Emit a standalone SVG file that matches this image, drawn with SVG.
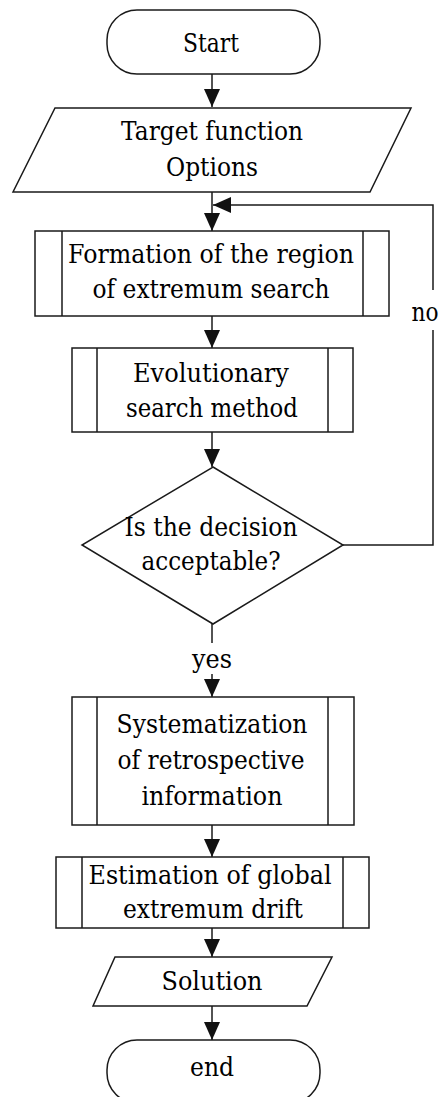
<svg xmlns="http://www.w3.org/2000/svg" width="444" height="1097" viewBox="0 0 444 1097">
<style>
.s{fill:#fff;stroke:#1a1a1a;stroke-width:1.5}
.l{fill:none;stroke:#1a1a1a;stroke-width:1.5}
.t{font-family:'DejaVu Serif',serif;font-size:26px;fill:#000;text-anchor:middle}
</style>
<defs>
<marker id="ah" markerUnits="userSpaceOnUse" markerWidth="18" markerHeight="16" refX="18" refY="8" orient="auto">
<path d="M0,0 L18,8 L0,16 Z" fill="#111"/>
</marker>
</defs>
<rect width="444" height="1097" fill="#fff"/>
<g id="connectors">
<path class="l" d="M212,74 V107" marker-end="url(#ah)"/>
<path class="l" d="M212,192 V231" marker-end="url(#ah)"/>
<path class="l" d="M212,316 V348" marker-end="url(#ah)"/>
<path class="l" d="M212,432 V467" marker-end="url(#ah)"/>
<path class="l" d="M212,624 V643"/>
<path class="l" d="M212,674 V697" marker-end="url(#ah)"/>
<path class="l" d="M212,825 V857" marker-end="url(#ah)"/>
<path class="l" d="M212,928 V957" marker-end="url(#ah)"/>
<path class="l" d="M212,1006 V1040" marker-end="url(#ah)"/>
<path class="l" d="M343,545 H433 V330"/>
<path class="l" d="M433,290 V205 H213" marker-end="url(#ah)"/>
<text class="t" x="425" y="321" textLength="27" lengthAdjust="spacingAndGlyphs">no</text>
<text class="t" x="212" y="668" textLength="40" lengthAdjust="spacingAndGlyphs">yes</text>
</g>
<g id="start">
<rect class="s" x="107" y="10" width="213" height="64" rx="30" ry="30"/>
<text class="t" x="211" y="52" textLength="56" lengthAdjust="spacingAndGlyphs">Start</text>
</g>
<g id="input">
<polygon class="s" points="55,108 411,108 370,192 13,192"/>
<text class="t" x="212" y="140" textLength="182" lengthAdjust="spacingAndGlyphs">Target function</text>
<text class="t" x="212" y="176" textLength="92" lengthAdjust="spacingAndGlyphs">Options</text>
</g>
<g id="formation">
<rect class="s" x="35" y="231" width="354" height="85"/>
<path class="l" d="M62,231 V316 M363,231 V316"/>
<text class="t" x="211" y="263" textLength="286" lengthAdjust="spacingAndGlyphs">Formation of the region</text>
<text class="t" x="211" y="298" textLength="237" lengthAdjust="spacingAndGlyphs">of extremum search</text>
</g>
<g id="evolutionary">
<rect class="s" x="72" y="348" width="281" height="84"/>
<path class="l" d="M97,348 V432 M328,348 V432"/>
<text class="t" x="211" y="382" textLength="156" lengthAdjust="spacingAndGlyphs">Evolutionary</text>
<text class="t" x="212" y="417" textLength="172" lengthAdjust="spacingAndGlyphs">search method</text>
</g>
<g id="decision">
<polygon class="s" points="213,467 343,545 213,624 82,545"/>
<text class="t" x="211" y="536" textLength="173" lengthAdjust="spacingAndGlyphs">Is the decision</text>
<text class="t" x="211" y="570" textLength="139" lengthAdjust="spacingAndGlyphs">acceptable?</text>
</g>
<g id="systematization">
<rect class="s" x="72" y="697" width="282" height="128"/>
<path class="l" d="M97,697 V825 M328,697 V825"/>
<text class="t" x="212" y="733" textLength="191" lengthAdjust="spacingAndGlyphs">Systematization</text>
<text class="t" x="211" y="769" textLength="187" lengthAdjust="spacingAndGlyphs">of retrospective</text>
<text class="t" x="212" y="805" textLength="141" lengthAdjust="spacingAndGlyphs">information</text>
</g>
<g id="estimation">
<rect class="s" x="56" y="857" width="313" height="71"/>
<path class="l" d="M82,857 V928 M343,857 V928"/>
<text class="t" x="210" y="884" textLength="243" lengthAdjust="spacingAndGlyphs">Estimation of global</text>
<text class="t" x="213" y="918" textLength="180" lengthAdjust="spacingAndGlyphs">extremum drift</text>
</g>
<g id="solution">
<polygon class="s" points="115,957 332,957 307,1006 93,1006"/>
<text class="t" x="212" y="990" textLength="101" lengthAdjust="spacingAndGlyphs">Solution</text>
</g>
<g id="end">
<rect class="s" x="107" y="1040" width="213" height="63" rx="30" ry="30"/>
<text class="t" x="212" y="1076" textLength="44" lengthAdjust="spacingAndGlyphs">end</text>
</g>
</svg>
